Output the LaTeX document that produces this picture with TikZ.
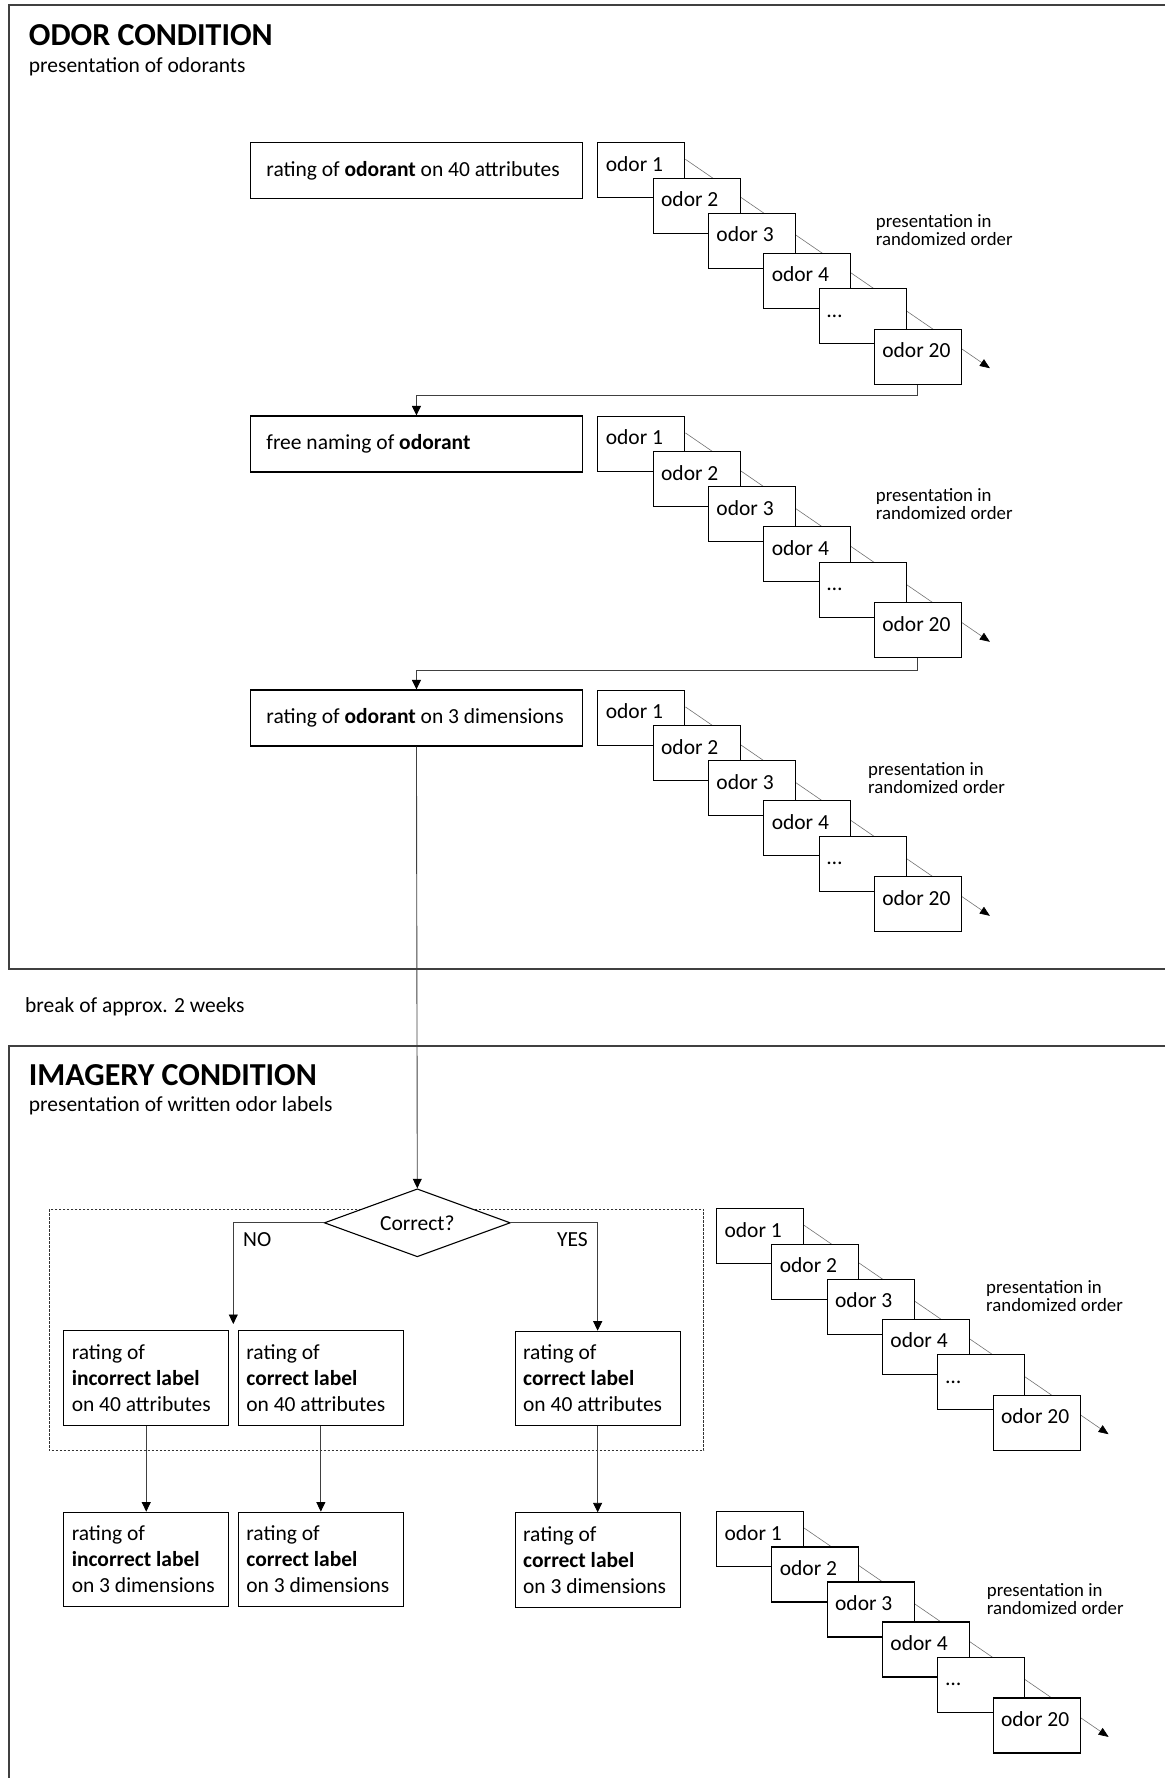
\documentclass[tikz,border=0pt]{standalone}
\usepackage{fontspec}
\setmainfont{Carlito}
\usetikzlibrary{arrows.meta,positioning,shapes.geometric,backgrounds}

\begin{document}
\begin{tikzpicture}[x=1pt,y=-1pt,font=\fontsize{21.5}{26}\selectfont,
  frame/.style={draw=black!75,line width=1.4pt},
  head/.style={font=\fontsize{32}{36}\selectfont\bfseries,inner sep=0pt,anchor=base west},
  sub/.style={inner sep=0pt,anchor=base west},
  plain space/.style={execute at begin node={\spaceskip=0pt\xspaceskip=0pt\hyphenpenalty=10000\relax}},
  note/.style={font=\fontsize{18.8}{18}\selectfont,align=left,inner sep=0pt,anchor=north west},
  odor/.style={draw,fill=white,line width=1.1pt,anchor=north west,minimum width=87pt,minimum height=55pt,text width=71pt,inner xsep=8pt,align=left,text height=15pt,text depth=13pt,plain space},
  stage/.style={draw,fill=white,line width=1.1pt,minimum height=56pt,text width=300pt,inner xsep=16pt,align=left,plain space},
  choice/.style={draw,line width=1.1pt,anchor=north west,minimum height=94.5pt,text width=149pt,inner xsep=8pt,align=left,plain space},
  decide/.style={draw,fill=white,line width=1.1pt,diamond,aspect=2.75,inner sep=1pt,minimum width=186pt,minimum height=68pt},
  conn/.style={draw=black!75,line width=0.9pt,-{Triangle[length=9.5pt,width=9pt,color=black]}},
  seq/.style={draw=black!55,line width=0.6pt,-{Triangle[length=10pt,width=8pt,color=black]}}]
\useasboundingbox (0,0) rectangle (1165,1778);

% frames of the two conditions
\draw[frame] (1165,5) -- (9,5) -- (9,969) -- (1165,969);
\draw[frame] (1165,1046) -- (9,1046) -- (9,1778);
\node[head] (odorhd) at (28.7,45.7) {ODOR CONDITION};
\node[sub] (odorsub) at (28.7,72.7) {presentation of odorants};
\node[sub] (brk) at (25,1012) {break of approx. 2 weeks};
\node[head] (imghd) at (28.7,1085) {IMAGERY CONDITION};
\node[sub] (imgsub) at (28.7,1111.7) {presentation of written odor labels};

% stacks of odors
\foreach \s/\sx/\sy/\tx in {a/597.3/142.3/278.4, b/597.3/415.9/278.4, c/597.3/689.9/270.7, d/716/1208.3/270, e/716/1511/270.7}{
  \foreach \i/\t/\dy in {1/odor 1/0, 2/odor 2/35.4, 3/odor 3/70.4, 4/odor 4/110.4, 5/\dots/145.7, 6/odor 20/186.4}
    \node[odor] (\s\i) at ({\sx+55.3*(\i-1)},{\sy+\dy}) {\t};
  \begin{scope}[on background layer]
    \draw[seq] ([shift={(0,17)}]\s1.north east) -- ([shift={(28,39.5)}]\s6.north east);
  \end{scope}
  \node[note] (n\s) at ([shift={(\tx,72)}]\s1.north west) {presentation in\\randomized order};
}

% odor condition
\node[stage,left=14.3pt of a1] (r40) {rating of \textbf{odorant} on 40 attributes};
\node[stage,left=14.3pt of b1] (name) {free naming of \textbf{odorant}};
\node[stage,left=14.3pt of c1] (r3) {rating of \textbf{odorant} on 3 dimensions};
\draw[conn] (a6.south) -- ++(0,11) -| (name.north);
\draw[conn] (b6.south) -- ++(0,11.7) -| (r3.north);

% imagery condition
\draw[draw=black!80,line width=1pt,dash pattern=on 2.5pt off 1.5pt] (49,1209.3) rectangle (703.8,1450.7);
\node[decide] (q) at (417.3,1222.8) {Correct?};
\node[choice] (i40) at (63.2,1330) {rating of\\\textbf{incorrect label}\\on 40 attributes};
\node[choice,right=8.5pt of i40] (k40) {rating of\\\textbf{correct label}\\on 40 attributes};
\node[choice] (c40) at (514.6,1330.7) {rating of\\\textbf{correct label}\\on 40 attributes};
\node[choice,below=86pt of i40] (i3) {rating of\\\textbf{incorrect label}\\on 3 dimensions};
\node[choice,below=86pt of k40] (k3) {rating of\\\textbf{correct label}\\on 3 dimensions};
\node[choice,below=86pt of c40] (c3) {rating of\\\textbf{correct label}\\on 3 dimensions};
\coordinate (nopt) at (233.3,1324);
\node[sub] (no) at (243,1246.7) {NO};
\node[sub,anchor=base east] (yes) at (588,1246.7) {YES};
\draw[conn] (r3.south) -- (q.north);
\draw[conn] (q.west) -| (nopt);
\draw[conn] (q.east) -| (c40.north);
\draw[conn] (i40) -- (i3);
\draw[conn] (k40) -- (k3);
\draw[conn] (c40) -- (c3);
\end{tikzpicture}
\end{document}
